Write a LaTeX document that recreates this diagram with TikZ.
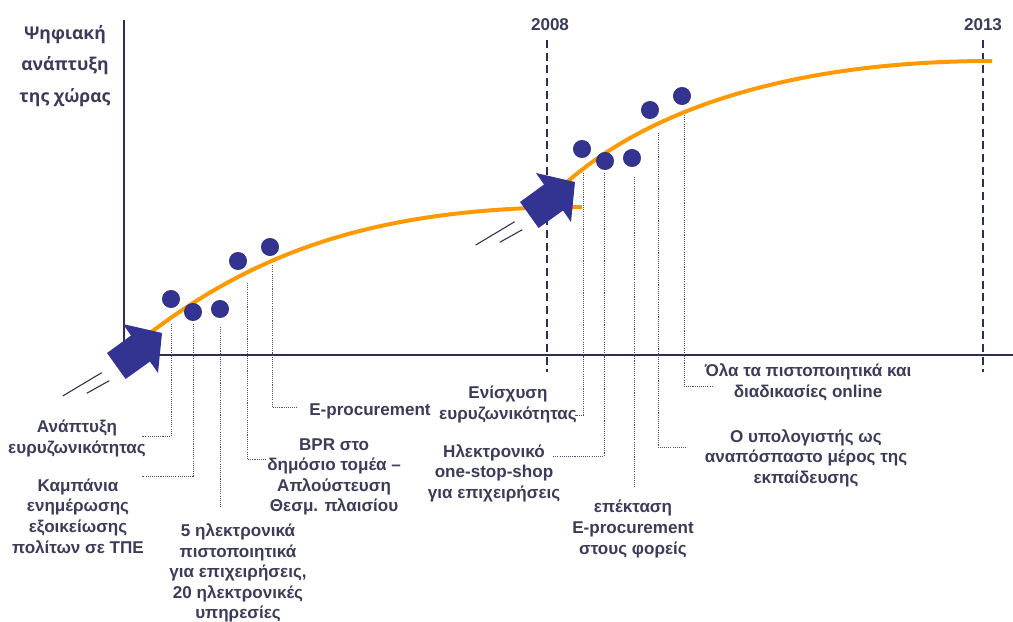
\documentclass[tikz,border=0pt]{standalone}
\usepackage{fontspec}
\setmainfont{Liberation Sans}
\newfontfamily\titlefont{Open Sans}
\definecolor{textc}{RGB}{60,60,88}
\definecolor{axisc}{RGB}{46,46,80}
\definecolor{leadc}{RGB}{80,80,110}
\definecolor{dotblue}{RGB}{51,51,145}
\definecolor{dotedge}{RGB}{40,40,110}
\definecolor{curveorange}{RGB}{255,153,0}
\begin{document}
\begin{tikzpicture}[x=0.75pt,y=-0.75pt,
  txt/.style={text=textc,font=\fontsize{12.8}{15.4}\selectfont\bfseries,align=center,inner sep=0pt},
  titletxt/.style={text=textc,font=\titlefont\fontsize{13.2}{23.5}\selectfont\bfseries,align=center,inner sep=0pt},
  dot/.style={circle,fill=dotblue,draw=dotedge,line width=0.4pt,minimum size=13pt,inner sep=0pt},
  leader/.style={draw=leadc,line width=0.6pt,dash pattern=on 0.8pt off 0.8pt},
  yearline/.style={draw=axisc,line width=0.9pt,dash pattern=on 6pt off 3.5pt},
  axisline/.style={draw=axisc,line width=1.1pt},
  growth/.style={draw=curveorange,line width=3pt},
  bigarrow/.style={fill=dotblue,draw=none},
  speed/.style={draw=axisc,line width=0.8pt}]
\useasboundingbox (0,0) rectangle (1013,621);

% axes
\coordinate (ytop) at (124,20);
\coordinate (orig) at (124,355);
\coordinate (xend) at (1013,355);
\draw[axisline] (ytop) -- (orig) -- (xend);

% year markers
\coordinate (y8t) at (547,40);
\coordinate (y8b) at (547,372);
\coordinate (y13t) at (983,40);
\coordinate (y13b) at (983,372);
\draw[yearline] (y8t) -- (y8b);
\draw[yearline] (y13t) -- (y13b);
\node[txt] (yr8) at (550,25) {2008};
\node[txt] (yr13) at (983,25) {2013};

% title
\node[titletxt] (title) at (65,66) {Ψηφιακή\\ανάπτυξη\\της χώρας};

% growth curves
\draw[growth] (150,333) .. controls (260,250) and (380,207) .. (582,207);
\draw[growth] (567,182) .. controls (665,97) and (820,61) .. (992,61);

% big arrows
\fill[bigarrow] (162,333) -- (123,324) -- (131,335.5) -- (107,353) -- (125.6,379) -- (150,361.5) -- (158,373) -- cycle;
\fill[bigarrow] (575,182) -- (536,173) -- (544,184.5) -- (520,202) -- (538.6,228) -- (563,210.5) -- (571,222) -- cycle;
\draw[speed] (62.7,396) -- (101.7,372.7);
\draw[speed] (86.7,393.3) -- (109.3,380.7);
\draw[speed] (475.7,245) -- (514.7,221.7);
\draw[speed] (499.7,242.3) -- (522.3,229.7);

% dots
\node[dot] (d1) at (171,299) {};
\node[dot] (d2) at (193,312) {};
\node[dot] (d3) at (220,309) {};
\node[dot] (d4) at (238,261) {};
\node[dot] (d5) at (270,247) {};
\node[dot] (d6) at (582,149) {};
\node[dot] (d7) at (605,161) {};
\node[dot] (d8) at (632,158) {};
\node[dot] (d9) at (650,110) {};
\node[dot] (d10) at (682,96) {};

% labels
\node[txt] (L1) at (77,438.5) {Ανάπτυξη\\ευρυζωνικότητας};
\node[txt] (L2) at (78,516) {Καμπάνια\\ενημέρωσης\\εξοικείωσης\\πολίτων σε ΤΠΕ};
\node[txt] (L3) at (238,573) {5 ηλεκτρονικά\\πιστοποιητικά\\για επιχειρήσεις,\\20 ηλεκτρονικές\\υπηρεσίες};
\node[txt,anchor=west] (L4) at (267,477) {BPR στο\\δημόσιο τομέα –\\Απλούστευση\\Θεσμ. πλαισίου};
\node[txt,anchor=west] (L5) at (309,411) {E-procurement};
\node[txt] (L6) at (508,404.5) {Ενίσχυση\\ευρυζωνικότητας};
\node[txt] (L7) at (494,473) {Ηλεκτρονικό\\one-stop-shop\\για επιχειρήσεις};
\node[txt] (L8) at (633,529) {επέκταση\\E-procurement\\στους φορείς};
\node[txt] (L9) at (808,382) {Όλα τα πιστοποιητικά και\\διαδικασίες online};
\node[txt] (L10) at (806,458) {Ο υπολογιστής ως\\αναπόσπαστο μέρος της\\εκπαίδευσης};

% leader lines
\coordinate (v1) at (171,324);  \coordinate (e1) at (142,436);
\coordinate (v2) at (193,324);  \coordinate (e2) at (142,476);
\coordinate (v3) at (220,327);  \coordinate (e3) at (220,508);
\coordinate (v4) at (247,283);  \coordinate (e4) at (266,459);
\coordinate (v5) at (272,265);  \coordinate (e5) at (298,407);
\coordinate (v6) at (583,173);  \coordinate (e6) at (575,415);
\coordinate (v7) at (604,173);  \coordinate (e7) at (553,456);
\coordinate (v8) at (634,177);  \coordinate (e8) at (634,487);
\coordinate (v9) at (658,133);  \coordinate (e9) at (686,447);
\coordinate (v10) at (684,115); \coordinate (e10) at (712,386);
\draw[leader] (v1) |- (e1);
\draw[leader] (v2) |- (e2);
\draw[leader] (v3) -- (e3);
\draw[leader] (v4) |- (e4);
\draw[leader] (v5) |- (e5);
\draw[leader] (v6) |- (e6);
\draw[leader] (v7) |- (e7);
\draw[leader] (v8) -- (e8);
\draw[leader] (v9) |- (e9);
\draw[leader] (v10) |- (e10);
\end{tikzpicture}
\end{document}
